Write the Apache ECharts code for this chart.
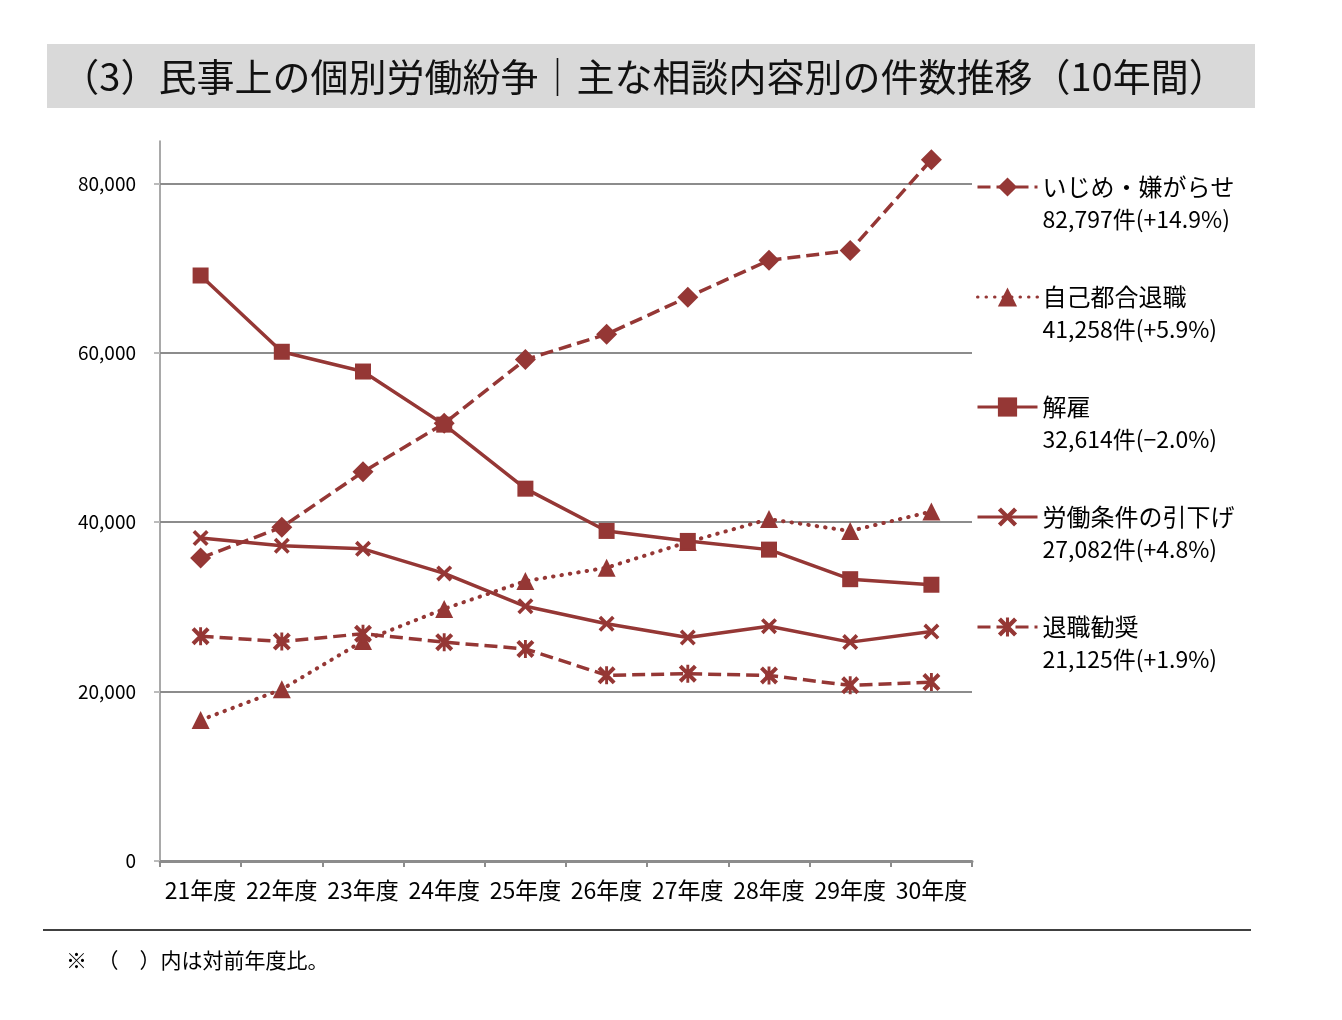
<!DOCTYPE html>
<html><head><meta charset="utf-8">
<script src="https://cdn.jsdelivr.net/npm/echarts@6/dist/echarts.min.js"></script>
<style>html,body{margin:0;padding:0;background:#fff}#c{width:1342px;height:1020px}</style>
</head><body><div id="c"></div>
<script>
const categories = ['21年度','22年度','23年度','24年度','25年度','26年度','27年度','28年度','29年度','30年度'];
const ijime = [35759,39405,45939,51670,59197,62191,66566,70917,72067,82797];
const jikoTaishoku = [16632,20265,25966,29763,33049,34626,37648,40364,38954,41258];
const kaiko = [69121,60118,57785,51515,43956,38966,37787,36760,33269,32614];
const hikisage = [38131,37210,36849,33955,30067,28015,26392,27723,25841,27082];
const kankoku = [26546,25902,26828,25838,25041,21928,22110,21901,20736,21125];
const yTicks = [0,20000,40000,60000,80000];
const seriesNames = ['いじめ・嫌がらせ','自己都合退職','解雇','労働条件の引下げ','退職勧奨'];
const legendCounts = ['82,797件(+14.9%)','41,258件(+5.9%)','32,614件(−2.0%)','27,082件(+4.8%)','21,125件(+1.9%)'];
const titleText = '（3）民事上の個別労働紛争｜主な相談内容別の件数推移（10年間）';
const noteText = '※　（　）内は対前年度比。';

const FONT = "'Noto Sans CJK JP', 'Noto Sans', sans-serif";
const RED = '#953735';
const X_PATH = 'path://M0,1.6 L1.6,0 L5,3.4 L8.4,0 L10,1.6 L6.6,5 L10,8.4 L8.4,10 L5,6.6 L1.6,10 L0,8.4 L3.4,5 Z';
const AST_PATH = 'path://M0,1.6 L1.6,0 L5,3.4 L8.4,0 L10,1.6 L6.6,5 L10,8.4 L8.4,10 L5,6.6 L1.6,10 L0,8.4 L3.4,5 Z M4.2,0 L5.8,0 L5.8,10 L4.2,10 Z';

const chart = echarts.init(document.getElementById('c'));
const mk = (name, data, symbol, size, type, extra) => Object.assign({
  name, type: 'line', data, symbol, symbolSize: size,
  lineStyle: { color: RED, width: 3.5, type },
  itemStyle: { color: RED },
  emphasis: { disabled: true },
  animation: false
}, extra || {});

chart.setOption({
  backgroundColor: '#fff',
  animation: false,
  textStyle: { fontFamily: FONT },
  grid: { left: 160, right: 370, top: 141, bottom: 159, containLabel: false },
  xAxis: {
    type: 'category', data: categories, boundaryGap: true,
    axisLine: { lineStyle: { color: '#8c8c8c', width: 3 } },
    axisTick: { show: true, length: 6, lineStyle: { color: '#8c8c8c', width: 2 } },
    axisLabel: { interval: 0, margin: 18, color: '#000', fontSize: 23, fontFamily: FONT }
  },
  yAxis: {
    type: 'value', min: 0, max: 85000, interval: 20000,
    axisLine: { show: true, lineStyle: { color: '#8c8c8c', width: 1.5 } },
    axisTick: { show: true, length: 6, customValues: yTicks, lineStyle: { color: '#bbbbbb', width: 2 } },
    splitLine: { show: true, showMinLine: false, lineStyle: { color: '#8c8c8c', width: 2 } },
    axisLabel: {
      customValues: yTicks, margin: 24, color: '#000', fontSize: 19, fontFamily: FONT,
      formatter: v => yTicks.indexOf(v) >= 0 ? v.toLocaleString('en-US') : ''
    }
  },
  legend: {
    orient: 'vertical', left: 971, top: 134, itemWidth: 60, itemHeight: 24, itemGap: 18.5,
    data: seriesNames, selectedMode: false,
    lineStyle: { width: 3 },
    formatter: name => '{e| }\n{a|' + name + '}\n{b|' + legendCounts[seriesNames.indexOf(name)] + '}',
    textStyle: {
      fontFamily: FONT, color: '#000',
      rich: {
        e: { fontSize: 22, lineHeight: 32, height: 32, fontFamily: FONT },
        a: { fontSize: 24, lineHeight: 32, color: '#000', fontFamily: FONT },
        b: { fontSize: 23, lineHeight: 32, color: '#000', fontFamily: FONT }
      }
    }
  },
  series: [
    mk(seriesNames[0], ijime, 'diamond', 21, [13, 6]),
    mk(seriesNames[1], jikoTaishoku, 'triangle', 18, [0.5, 8], { lineStyle: { color: RED, width: 4, type: [0.5, 8], cap: 'round' } }),
    mk(seriesNames[2], kaiko, 'rect', 16, 'solid'),
    mk(seriesNames[3], hikisage, X_PATH, 16, 'solid'),
    mk(seriesNames[4], kankoku, AST_PATH, 18, [13, 6])
  ],
  graphic: [
    { type: 'rect', shape: { x: 47, y: 44, width: 1208, height: 64 }, style: { fill: '#d9d9d9' }, silent: true, z: 0 },
    { type: 'text', x: 644, y: 77, style: { text: titleText, fontSize: 38, fontFamily: FONT, fill: '#111', textAlign: 'center', textVerticalAlign: 'middle' }, z: 1 },
    { type: 'line', shape: { x1: 43, y1: 930, x2: 1251, y2: 930 }, style: { stroke: '#000', lineWidth: 1.5 } },
    { type: 'text', x: 66, y: 960, style: { text: noteText, fontSize: 21, fontFamily: FONT, fill: '#000', textVerticalAlign: 'middle' } }
  ]
});
</script>
</body></html>
